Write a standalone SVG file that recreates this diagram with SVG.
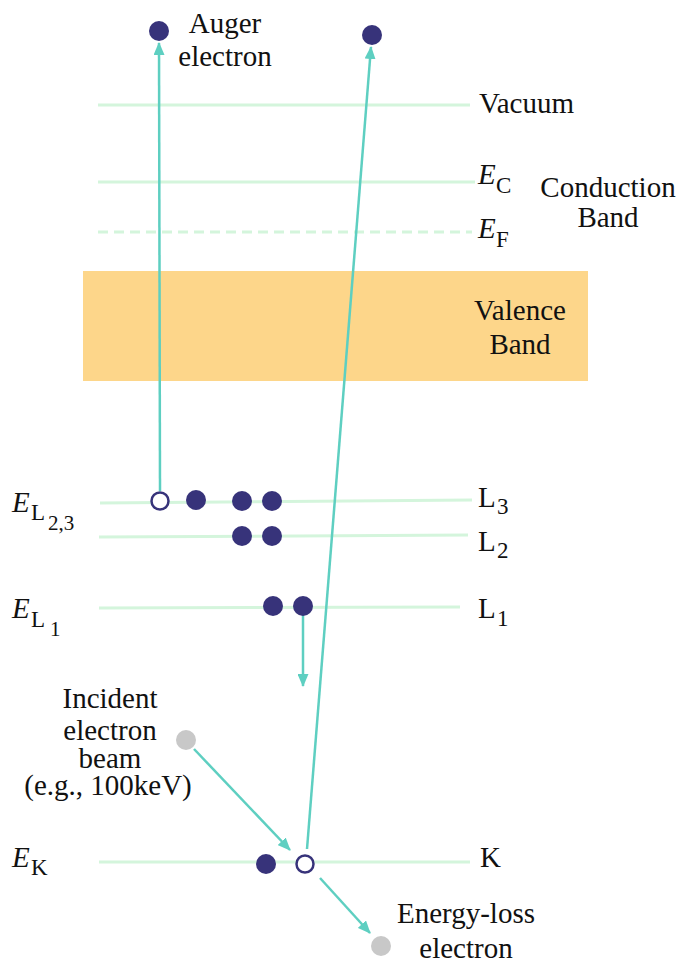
<svg xmlns="http://www.w3.org/2000/svg" width="679" height="964" viewBox="0 0 679 964">
<style>
text{font-family:'Liberation Serif','Times New Roman',serif;font-size:29px;fill:#111}
.it{font-style:italic}
.sub{font-size:23px}
.sub2{font-size:21px}
.lvl{stroke:#d4f5dc;stroke-width:3;fill:none}
.arr{stroke:#5ecfc1;stroke-width:2.5;fill:none;marker-end:url(#ah)}
.e{fill:#37337a}
.h{fill:#fff;stroke:#37337a;stroke-width:2.5}
.g{fill:#c8c8c8}
</style>
<defs>
<marker id="ah" viewBox="0 0 13 11" refX="12" refY="5.5" markerWidth="13" markerHeight="11" orient="auto" markerUnits="userSpaceOnUse">
<path d="M0,0 L13,5.5 L0,11 z" fill="#5ecfc1"/>
</marker>
</defs>
<g id="valence-band"><rect x="83" y="271" width="505" height="110" fill="#fdd68a"/>
<text x="520" y="320" text-anchor="middle">Valence</text><text x="520" y="354" text-anchor="middle">Band</text></g>
<g id="levels">
<line class="lvl" x1="98" y1="105" x2="470" y2="105"/>
<line class="lvl" x1="98" y1="182" x2="475" y2="182"/>
<line class="lvl" x1="98" y1="232" x2="472" y2="232" stroke-dasharray="10,6"/>
<line class="lvl" x1="100" y1="503" x2="472" y2="500"/>
<line class="lvl" x1="99" y1="537" x2="468" y2="535"/>
<line class="lvl" x1="99" y1="608" x2="460" y2="607"/>
<line class="lvl" x1="99" y1="862" x2="470" y2="862"/>
</g>
<g id="labels">
<text x="479" y="113">Vacuum</text>
<text x="478" y="184" class="it">E</text><text x="496" y="193" class="sub">C</text>
<text x="478" y="238" class="it">E</text><text x="496" y="247" class="sub">F</text>
<text x="608" y="197" text-anchor="middle">Conduction</text><text x="608" y="227" text-anchor="middle">Band</text>
<text x="12" y="512" class="it">E</text><text x="31" y="520" class="sub">L</text><text x="48" y="530" class="sub2">2,3</text>
<text x="478" y="507">L</text><text x="497" y="514" class="sub">3</text>
<text x="478" y="551">L</text><text x="497" y="558" class="sub">2</text>
<text x="478" y="618">L</text><text x="497" y="626" class="sub">1</text>
<text x="12" y="618" class="it">E</text><text x="31" y="627" class="sub">L</text><text x="50" y="636" class="sub2">1</text>
<text x="12" y="867" class="it">E</text><text x="31" y="875" class="sub">K</text>
<text x="480" y="867">K</text>
<text x="225" y="33" text-anchor="middle">Auger</text><text x="225" y="66" text-anchor="middle">electron</text>
<text x="110" y="708" text-anchor="middle">Incident</text>
<text x="110" y="740" text-anchor="middle">electron</text>
<text x="110" y="768" text-anchor="middle">beam</text>
<text x="108" y="795" text-anchor="middle">(e.g., 100keV)</text>
<text x="466" y="923" text-anchor="middle">Energy-loss</text>
<text x="466" y="958" text-anchor="middle">electron</text>
</g>
<g id="connectors">
<line class="arr" x1="160" y1="491" x2="159" y2="43"/>
<line class="arr" x1="307" y1="849" x2="371" y2="47"/>
<line class="arr" x1="303" y1="615" x2="303" y2="686"/>
<line class="arr" x1="194" y1="749" x2="290" y2="850"/>
<line class="arr" x1="320" y1="878" x2="370" y2="933"/>
</g>
<g id="electrons">
<circle class="e" cx="159" cy="31" r="10"/>
<circle class="e" cx="372" cy="35" r="10"/>
<circle class="h" cx="160" cy="501" r="8.5"/>
<circle class="e" cx="196" cy="500" r="10"/>
<circle class="e" cx="242" cy="501" r="10"/>
<circle class="e" cx="272" cy="501" r="10"/>
<circle class="e" cx="242" cy="536" r="10"/>
<circle class="e" cx="272" cy="536" r="10"/>
<circle class="e" cx="273" cy="606" r="10"/>
<circle class="e" cx="303" cy="606" r="10"/>
<circle class="e" cx="266" cy="864" r="10"/>
<circle class="h" cx="305" cy="864" r="8.5"/>
<circle class="g" cx="186" cy="740" r="10"/>
<circle class="g" cx="381" cy="946" r="10"/>
</g>
</svg>
